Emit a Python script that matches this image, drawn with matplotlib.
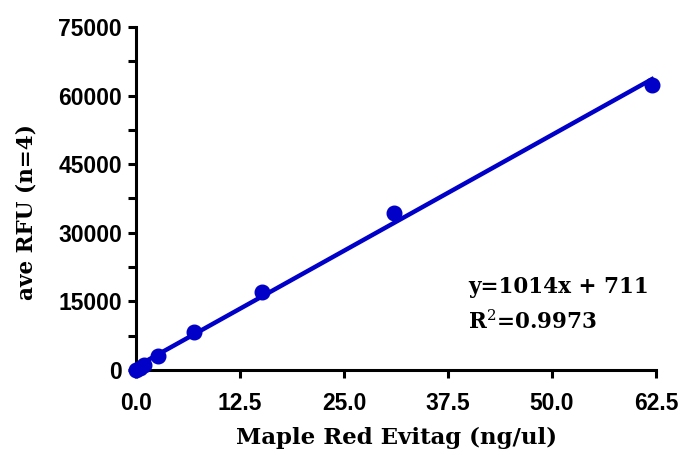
import numpy as np
import matplotlib
matplotlib.use("Agg")
import matplotlib.pyplot as plt
from matplotlib.ticker import MultipleLocator

# data
conc = [0.0, 0.5, 1.0, 2.6, 7.0, 15.1, 31.0, 62.0]
rfu = [0, 500, 1000, 3050, 8300, 17050, 34300, 62300]
slope = 1014
intercept = 711
x_ticks = [0.0, 12.5, 25.0, 37.5, 50.0, 62.5]
y_ticks = [0, 15000, 30000, 45000, 60000, 75000]

blue = "#0000c8"
serif = "DejaVu Serif"
plt.rcParams["mathtext.fontset"] = "dejavuserif"

fig = plt.figure(figsize=(6.82, 4.55), dpi=100)
ax = fig.add_axes([0.1994, 0.187, 0.7626, 0.7537])

xfit = np.array([min(conc), max(conc)])
ax.plot(xfit, slope * xfit + intercept, color=blue, lw=3.2, clip_on=False, zorder=2)
ax.plot(conc, rfu, "o", color=blue, ms=10.5, clip_on=False, zorder=3)

ax.set_xlim(0, 62.5)
ax.set_ylim(0, 75000)
ax.set_xticks(x_ticks)
ax.set_xticklabels([f"{v:.1f}" for v in x_ticks])
ax.set_yticks(y_ticks)
ax.set_yticklabels([str(v) for v in y_ticks])
ax.yaxis.set_minor_locator(MultipleLocator(7500))

for s in ["top", "right"]:
    ax.spines[s].set_visible(False)
for s in ["left", "bottom"]:
    ax.spines[s].set_linewidth(2.2)

ax.tick_params(which="both", length=6, width=2.2, direction="out")
ax.tick_params(axis="x", pad=10)
ax.tick_params(axis="y", pad=4)
for lab in ax.get_xticklabels() + ax.get_yticklabels():
    lab.set_fontfamily("Liberation Sans")
    lab.set_fontweight("bold")
    lab.set_fontsize(16.5)

ax.set_xlabel("Maple Red Evitag (ng/ul)", family=serif,
              fontweight="bold", fontsize=16.5)
ax.xaxis.set_label_coords(0.5, -0.165)
ax.set_ylabel("ave RFU (n=4)", family=serif,
              fontweight="bold", fontsize=15.5)
ax.yaxis.set_label_coords(-0.19, 0.46)

ax.text(0.639, 0.225, f"y={slope}x + {intercept}", transform=ax.transAxes,
        family=serif, fontweight="bold", fontsize=15.5)
ax.text(0.639, 0.118, "R$^2$=0.9973", transform=ax.transAxes,
        family=serif, fontweight="bold", fontsize=15.5)

fig.savefig("out.png", dpi=100)
